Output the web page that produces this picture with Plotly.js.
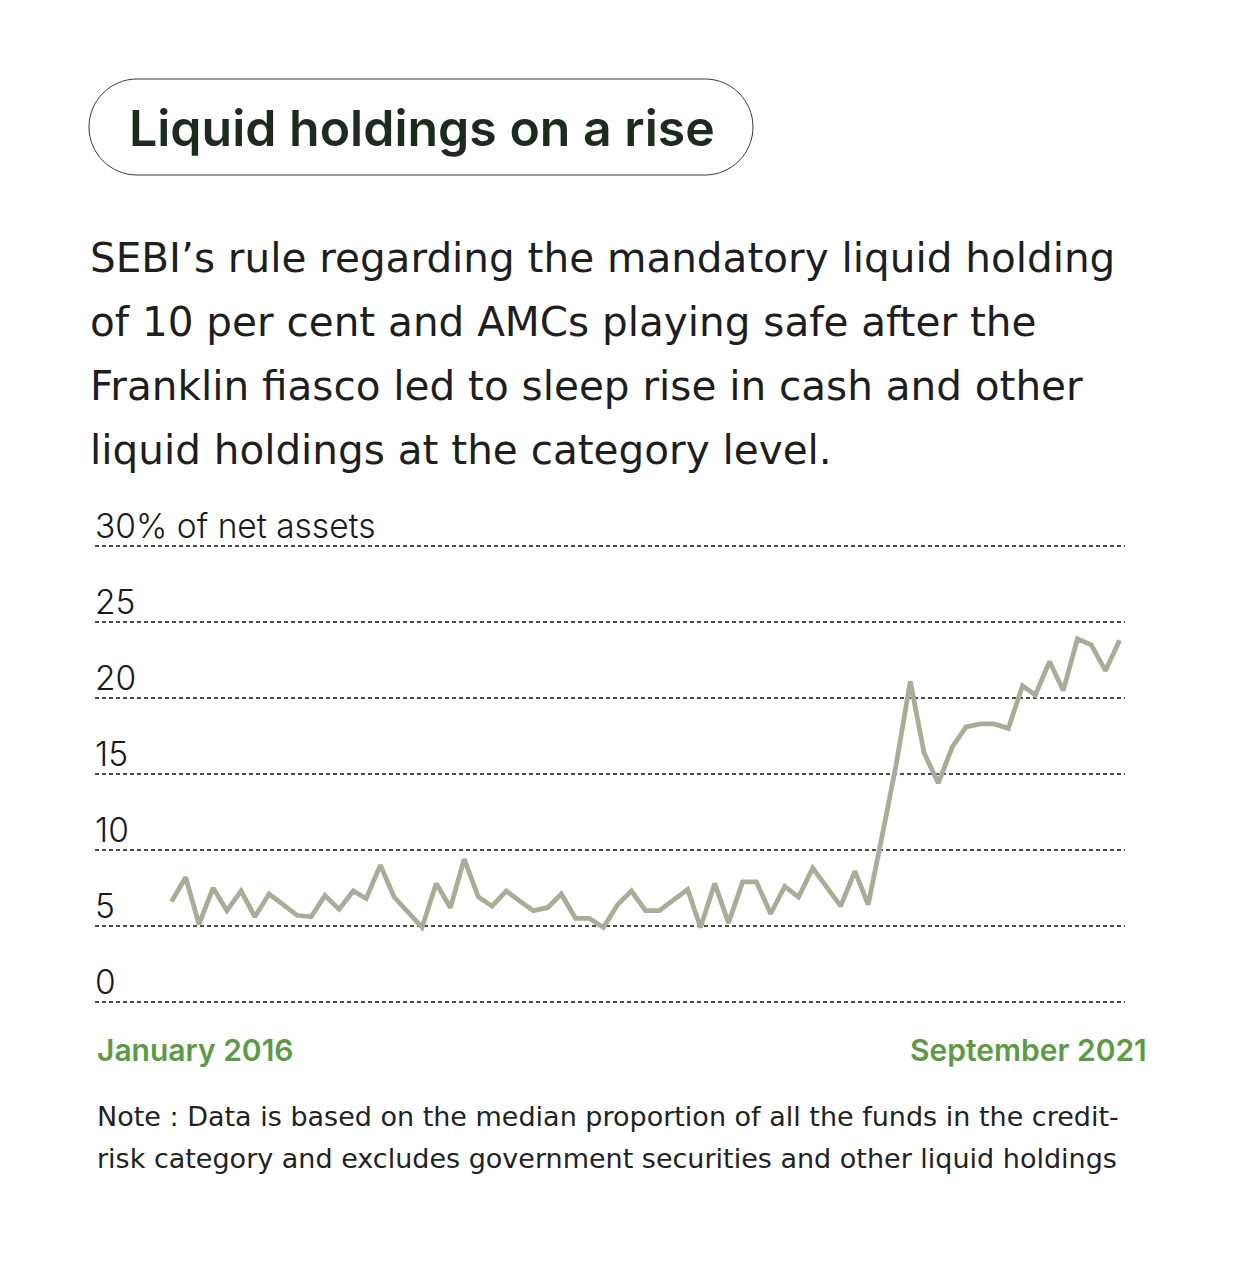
<!DOCTYPE html>
<html>
<head>
<meta charset="utf-8">
<script src="https://cdn.plot.ly/plotly-3.0.1.min.js"></script>
<style>
  html, body { margin: 0; padding: 0; background: #ffffff; }
  #chart { width: 1243px; height: 1280px; }
</style>
</head>
<body>
<div id="chart"></div>
<script>
// ---- Data ----
const months = [
  "2016-01-01","2016-02-01","2016-03-01","2016-04-01","2016-05-01","2016-06-01","2016-07-01","2016-08-01","2016-09-01","2016-10-01","2016-11-01","2016-12-01",
  "2017-01-01","2017-02-01","2017-03-01","2017-04-01","2017-05-01","2017-06-01","2017-07-01","2017-08-01","2017-09-01","2017-10-01","2017-11-01","2017-12-01",
  "2018-01-01","2018-02-01","2018-03-01","2018-04-01","2018-05-01","2018-06-01","2018-07-01","2018-08-01","2018-09-01","2018-10-01","2018-11-01","2018-12-01",
  "2019-01-01","2019-02-01","2019-03-01","2019-04-01","2019-05-01","2019-06-01","2019-07-01","2019-08-01","2019-09-01","2019-10-01","2019-11-01","2019-12-01",
  "2020-01-01","2020-02-01","2020-03-01","2020-04-01","2020-05-01","2020-06-01","2020-07-01","2020-08-01","2020-09-01","2020-10-01","2020-11-01","2020-12-01",
  "2021-01-01","2021-02-01","2021-03-01","2021-04-01","2021-05-01","2021-06-01","2021-07-01","2021-08-01","2021-09-01"
];
const liquidShare = [
  6.6, 8.2, 5.1, 7.5, 6.0, 7.3, 5.6, 7.1, 6.4, 5.7, 5.6, 7.0,
  6.1, 7.3, 6.8, 9.0, 6.9, 5.9, 4.9, 7.8, 6.2, 9.4, 6.9, 6.3,
  7.3, 6.6, 6.0, 6.2, 7.1, 5.5, 5.5, 4.9, 6.4, 7.3, 6.0, 6.0,
  6.7, 7.4, 4.9, 7.8, 5.2, 7.9, 7.9, 5.8, 7.6, 6.9, 8.8, 7.6,
  6.3, 8.6, 6.4, 11.0, 15.6, 21.1, 16.4, 14.4, 16.8, 18.1, 18.3, 18.3,
  18.0, 20.8, 20.2, 22.4, 20.5, 23.9, 23.5, 21.8, 23.8
];
const tickValues = [0, 5, 10, 15, 20, 25, 30];
const tickLabels = ["0", "5", "10", "15", "20", "25", "30% of net assets"];
const titleText = "Liquid holdings on a rise";
const subtitleLines = [
  "SEBI’s rule regarding the mandatory liquid holding",
  "of 10 per cent and AMCs playing safe after the",
  "Franklin fiasco led to sleep rise in cash and other",
  "liquid holdings at the category level."
];
const startLabel = "January 2016";
const endLabel = "September 2021";
const noteLines = [
  "Note : Data is based on the median proportion of all the funds in the credit-",
  "risk category and excludes government securities and other liquid holdings"
];

// ---- Layout geometry (pixels) ----
const W = 1243, H = 1280;
const L = 95, R = 1125, T = 540, B = 1011;
const px = p => (p - L) / (R - L);
const py = p => (B - p) / (B - T);
const FONT = "Inter, 'DejaVu Sans', sans-serif";
const BODY = "'DejaVu Sans', Inter, sans-serif";

// rounded title box
function pillPath(x0, y0, x1, y1) {
  const r = (y1 - y0) / 2, k = 0.5523 * r, ym = (y0 + y1) / 2;
  const P = (x, y) => px(x).toFixed(5) + "," + py(y).toFixed(5);
  return "M" + P(x0 + r, y0) + " L" + P(x1 - r, y0) +
    " C" + P(x1 - r + k, y0) + " " + P(x1, ym - k) + " " + P(x1, ym) +
    " C" + P(x1, ym + k) + " " + P(x1 - r + k, y1) + " " + P(x1 - r, y1) +
    " L" + P(x0 + r, y1) +
    " C" + P(x0 + r - k, y1) + " " + P(x0, ym + k) + " " + P(x0, ym) +
    " C" + P(x0, ym - k) + " " + P(x0 + r - k, y0) + " " + P(x0 + r, y0) + " Z";
}

const annotations = [];
// tick labels above gridlines
tickValues.forEach((v, i) => {
  annotations.push({
    xref: "paper", yref: "y", x: 0, y: v, xanchor: "left", yanchor: "bottom",
    yshift: -2, xshift: -2,
    text: tickLabels[i], showarrow: false,
    font: { family: FONT, size: 33.5, color: "#1a1a1a", weight: 300 }
  });
});
// title
annotations.push({
  xref: "paper", yref: "paper", x: px(422), y: py(128), xanchor: "center", yanchor: "middle",
  text: titleText, showarrow: false,
  font: { family: FONT, size: 50, color: "#1c2b1d", weight: 600 }
});
// subtitle
const subY = [258, 322, 386, 450];
subtitleLines.forEach((t, i) => {
  annotations.push({
    xref: "paper", yref: "paper", x: px(88), y: py(subY[i]), xanchor: "left", yanchor: "middle",
    text: t, showarrow: false,
    font: { family: BODY, size: 40.5, color: "#1e1e1e", weight: 400 }
  });
});
// period labels
annotations.push({
  xref: "paper", yref: "paper", x: px(95), y: py(1050), xanchor: "left", yanchor: "middle",
  text: startLabel, showarrow: false,
  font: { family: FONT, size: 30, color: "#5c9a47", weight: 600 }
});
annotations.push({
  xref: "paper", yref: "paper", x: px(1149), y: py(1050), xanchor: "right", yanchor: "middle",
  text: endLabel, showarrow: false,
  font: { family: FONT, size: 30, color: "#5c9a47", weight: 600 }
});
// note
const noteY = [1116, 1158];
noteLines.forEach((t, i) => {
  annotations.push({
    xref: "paper", yref: "paper", x: px(95), y: py(noteY[i]), xanchor: "left", yanchor: "middle",
    text: t, showarrow: false,
    font: { family: BODY, size: 27, color: "#222222", weight: 400 }
  });
});

const trace = {
  type: "scatter", mode: "lines",
  x: months, y: liquidShare,
  line: { color: "#a9ad98", width: 4.8, shape: "linear" },
  hoverinfo: "skip"
};

const layout = {
  width: W, height: H,
  margin: { l: L, r: W - R, t: T, b: H - B, pad: 0 },
  paper_bgcolor: "#ffffff", plot_bgcolor: "#ffffff",
  showlegend: false,
  xaxis: {
    type: "date",
    range: ["2015-07-18", "2021-09-12 18:00"],
    showgrid: false, zeroline: false, showline: false, showticklabels: false, ticks: ""
  },
  yaxis: {
    range: [-0.6, 30.4],
    tickvals: tickValues,
    showticklabels: false, ticks: "",
    showgrid: true, gridcolor: "#4a4a4a", gridwidth: 1.5, griddash: "4px,3px",
    zeroline: false, showline: false
  },
  shapes: [{
    type: "path", xref: "paper", yref: "paper",
    path: pillPath(89, 79, 753, 175),
    line: { color: "#3a3a3a", width: 1 }, fillcolor: "rgba(0,0,0,0)", layer: "above"
  }],
  annotations: annotations
};

Plotly.newPlot("chart", [trace], layout, { displayModeBar: false, staticPlot: true });
</script>
</body>
</html>
